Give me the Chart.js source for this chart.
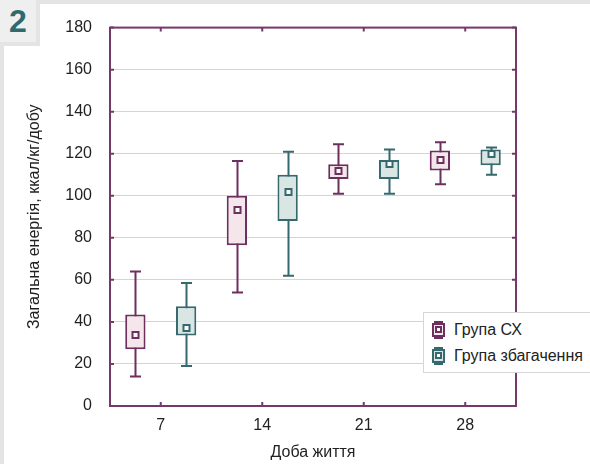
<!DOCTYPE html>
<html>
<head>
<meta charset="utf-8">
<script src="https://cdn.jsdelivr.net/npm/chart.js@4.4.1/dist/chart.umd.min.js"></script>
<style>
  html, body { margin: 0; padding: 0; }
  body { width: 590px; height: 464px; background: #e4e4e4; position: relative; overflow: hidden;
         font-family: "Liberation Sans", Arial, sans-serif; }
  .panel { position: absolute; left: 4px; top: 4px; right: 0; bottom: 0; background: #fff; }
  .badge { position: absolute; left: 0; top: 0; width: 36px; height: 42px; background: #efefef;
           border-right: 4px solid #e4e4e4; border-bottom: 4px solid #e4e4e4;
           color: #2d6a6d; font-weight: bold; font-size: 32px; line-height: 42px; text-align: center; }
  #chartBox { position: absolute; left: 0; top: 0; width: 590px; height: 464px; }
  .legend { position: absolute; left: 423px; top: 312px; width: 180px; height: 59px; background: #fff;
            border: 1px solid #d6d6d6; font-size: 16px; color: #222; }
  .legend .row { position: absolute; left: 8px; height: 20px; display: flex; align-items: center; }
  .legend svg { margin-right: 9px; }
</style>
</head>
<body>
<div class="panel"></div>
<div class="badge">2</div>
<div id="chartBox"><canvas id="energyChart"></canvas></div>
<div class="legend">
  <div class="row" style="top:7px">
    <svg width="13" height="18"><g stroke="#6d2f5e" stroke-width="2" fill="none">
      <line x1="2" y1="1" x2="11" y2="1"/><line x1="2" y1="17" x2="11" y2="17"/>
      <line x1="6.5" y1="1" x2="6.5" y2="17"/>
      <rect x="1" y="3" width="11" height="12" fill="#f4e6ea"/><rect x="4" y="6" width="5" height="5" fill="#fff"/></g></svg>
    <span>Група СХ</span>
  </div>
  <div class="row" style="top:33px">
    <svg width="13" height="18"><g stroke="#35696e" stroke-width="2" fill="none">
      <line x1="2" y1="1" x2="11" y2="1"/><line x1="2" y1="17" x2="11" y2="17"/>
      <line x1="6.5" y1="1" x2="6.5" y2="17"/>
      <rect x="1" y="3" width="11" height="12" fill="#d9e6e3"/><rect x="4" y="6" width="5" height="5" fill="#fff"/></g></svg>
    <span>Група збагачення</span>
  </div>
</div>
<script>
// дані: доба життя
const days = ['7', '14', '21', '28'];

// Група СХ
const cxMin = [14, 54, 101, 105.5];
const cxQ1 = [27, 76.5, 108, 112];
const cxMed = [34, 93, 112, 117];
const cxQ3 = [43.5, 100, 115, 121.5];
const cxMax = [64, 116.5, 124.5, 125.5];

// Група збагачення
const enMin = [19, 62, 101, 110];
const enQ1 = [33.5, 88, 108, 114.5];
const enMed = [37, 102, 115, 120];
const enQ3 = [47.5, 110, 117, 122];
const enMax = [58.5, 121, 122, 123];

const yTicks = [0, 20, 40, 60, 80, 100, 120, 140, 160, 180];

const cxColor = '#6d2f5e';
const enColor = '#35696e';
const frameColor = '#74386a';

const whiskers = [
    { min: cxMin, med: cxMed, max: cxMax, color: cxColor },
    { min: enMin, med: enMed, max: enMax, color: enColor }
];

// малюємо вуса, медіани і рамку
const boxPlot = {
    id: 'boxPlot',
    beforeDatasetsDraw(chart) {
        const ctx = chart.ctx;
        const y = chart.scales.y;
        whiskers.forEach((w, i) => {
            const meta = chart.getDatasetMeta(i);
            ctx.save();
            ctx.strokeStyle = w.color;
            ctx.lineWidth = 2;
            meta.data.forEach((bar, j) => {
                const x = Math.round(bar.x) + 0.5;
                const yMin = y.getPixelForValue(w.min[j]);
                const yMax = y.getPixelForValue(w.max[j]);
                ctx.beginPath();
                ctx.moveTo(x, yMin);
                ctx.lineTo(x, yMax);
                ctx.moveTo(x - 5.5, yMin);
                ctx.lineTo(x + 5.5, yMin);
                ctx.moveTo(x - 5.5, yMax);
                ctx.lineTo(x + 5.5, yMax);
                ctx.stroke();
            });
            ctx.restore();
        });
    },
    afterDatasetsDraw(chart) {
        const ctx = chart.ctx;
        const y = chart.scales.y;
        whiskers.forEach((w, i) => {
            const meta = chart.getDatasetMeta(i);
            ctx.save();
            ctx.strokeStyle = w.color;
            ctx.fillStyle = '#fff';
            ctx.lineWidth = 2;
            meta.data.forEach((bar, j) => {
                const x = Math.round(bar.x) + 0.5;
                const ym = Math.round(y.getPixelForValue(w.med[j]));
                ctx.fillRect(x - 3, ym - 3, 6, 6);
                ctx.strokeRect(x - 3, ym - 3, 6, 6);
            });
            ctx.restore();
        });
    },
    afterDraw(chart) {
        const ctx = chart.ctx;
        const { left, right, top, bottom } = chart.chartArea;
        const x = chart.scales.x;
        const y = chart.scales.y;
        ctx.save();
        ctx.strokeStyle = frameColor;
        ctx.lineWidth = 2;
        ctx.strokeRect(left, top, right - left, bottom - top);
        ctx.beginPath();
        yTicks.forEach(v => {
            const py = y.getPixelForValue(v);
            ctx.moveTo(left, py); ctx.lineTo(left + 4, py);
            ctx.moveTo(right, py); ctx.lineTo(right - 4, py);
        });
        days.forEach((d, i) => {
            const px = x.getPixelForValue(i);
            ctx.moveTo(px, top); ctx.lineTo(px, top + 4);
            ctx.moveTo(px, bottom); ctx.lineTo(px, bottom - 4);
        });
        ctx.stroke();
        ctx.restore();
    }
};

const font = { family: '"Liberation Sans", Arial, sans-serif', size: 16 };

const config = {
    type: 'bar',
    data: {
        labels: days,
        datasets: [
            {
                label: 'Група СХ',
                data: cxQ1.map((q, i) => [q, cxQ3[i]]),
                backgroundColor: '#f4e6ea',
                borderColor: cxColor,
                borderWidth: 2,
                borderSkipped: false
            },
            {
                label: 'Група збагачення',
                data: enQ1.map((q, i) => [q, enQ3[i]]),
                backgroundColor: '#d9e6e3',
                borderColor: enColor,
                borderWidth: 2,
                borderSkipped: false
            }
        ]
    },
    options: {
        responsive: true,
        maintainAspectRatio: false,
        animation: false,
        layout: { padding: { top: 25, right: 74, left: 0, bottom: 0 } },
        categoryPercentage: 1.0,
        barPercentage: 0.4,
        plugins: {
            legend: { display: false },
            tooltip: { enabled: false }
        },
        scales: {
            x: {
                grid: { display: false, drawTicks: false },
                border: { display: false },
                ticks: { font: font, color: '#222', padding: 10 },
                title: {
                    display: true,
                    text: 'Доба життя',
                    font: font,
                    color: '#222',
                    padding: { top: 0, bottom: 2 }
                },
                afterFit: s => { s.height = 58; }
            },
            y: {
                min: 0,
                max: 180,
                ticks: { stepSize: 20, font: font, color: '#222', padding: 18 },
                grid: { color: '#d4d4d4', lineWidth: 1, drawTicks: false },
                border: { display: false },
                title: {
                    display: true,
                    text: 'Загальна енергія, ккал/кг/добу',
                    font: font,
                    color: '#222',
                    padding: { top: 25, bottom: 0 }
                },
                afterFit: s => { s.width = 110; }
            }
        }
    },
    plugins: [boxPlot]
};

const chartCtx = document.getElementById('energyChart').getContext('2d');
const energyChart = new Chart(chartCtx, config);
</script>
</body>
</html>
